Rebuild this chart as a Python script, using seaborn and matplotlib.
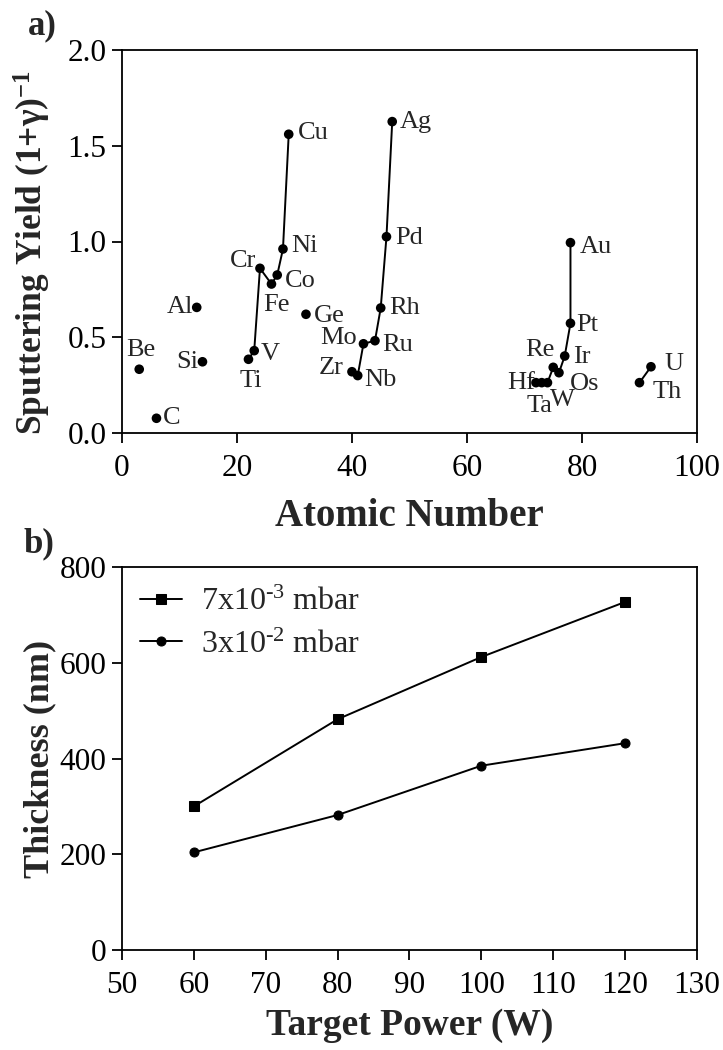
import matplotlib
matplotlib.use("Agg")
import matplotlib.pyplot as plt
import seaborn as sns
import pandas as pd

# ---- Panel a data ----
symbols = ["Be", "C", "Al", "Si", "Ti", "V", "Cr", "Fe", "Co", "Ni", "Cu", "Ge",
           "Zr", "Nb", "Mo", "Ru", "Rh", "Pd", "Ag",
           "Hf", "Ta", "W", "Re", "Os", "Ir", "Pt", "Au", "Th", "U"]
atomic_number = [3, 6, 13, 14, 22, 23, 24, 26, 27, 28, 29, 32,
                 40, 41, 42, 44, 45, 46, 47,
                 72, 73, 74, 75, 76, 77, 78, 78, 90, 92]
sputter_yield = [0.333, 0.077, 0.656, 0.372, 0.385, 0.43, 0.86, 0.778, 0.825, 0.961, 1.56, 0.62,
                 0.32, 0.30, 0.466, 0.482, 0.653, 1.025, 1.626,
                 0.263, 0.263, 0.263, 0.343, 0.315, 0.402, 0.573, 0.994, 0.263, 0.346]
period_group = ["", "", "", "", "3d", "3d", "3d", "3d", "3d", "3d", "3d", "",
                "4d", "4d", "4d", "4d", "4d", "4d", "4d",
                "5d", "5d", "5d", "5d", "5d", "5d", "5d", "5d", "act", "act"]

# label offsets in pixels (dx, dy, ha, va)
label_pos = {
    "Be": (2, 8, "center", "bottom"), "C": (6, 0, "left", "center"),
    "Al": (-4, 0, "right", "center"), "Si": (-4, 0, "right", "center"),
    "Ti": (2, -11, "center", "top"), "V": (6, -3, "left", "center"),
    "Cr": (-4, 7, "right", "center"), "Fe": (5, -10, "center", "top"),
    "Co": (8, -6, "left", "center"), "Ni": (8, 3, "left", "center"),
    "Cu": (9, 1, "left", "center"), "Ge": (8, -2, "left", "center"),
    "Zr": (-8, 4, "right", "center"), "Nb": (6, -4, "left", "center"),
    "Mo": (-7, 6, "right", "center"), "Ru": (7, -4, "left", "center"),
    "Rh": (8, 0, "left", "center"), "Pd": (9, -1, "left", "center"),
    "Ag": (8, 0, "left", "center"), "Hf": (-1, 0, "right", "center"),
    "Ta": (-2, -23, "center", "center"), "W": (15, -17, "center", "center"),
    "Re": (1, 17, "right", "center"), "Os": (11, -11, "left", "center"),
    "Ir": (8, -1, "left", "center"), "Pt": (6, -2, "left", "center"),
    "Au": (9, -4, "left", "center"), "Th": (13, -9, "left", "center"),
    "U": (13, 3, "left", "center"),
}

# ---- Panel b data ----
target_power = [60, 80, 100, 120]
thickness_7e3 = [300, 482, 612, 727]
thickness_3e2 = [204, 282, 385, 432]
legend_labels = [r"7x10$^{\text{-3}}$ mbar", r"3x10$^{\text{-2}}$ mbar"]

sns.set_style("ticks")
plt.rcParams["font.family"] = ["Liberation Serif", "DejaVu Serif"]
plt.rcParams["mathtext.fontset"] = "custom"
plt.rcParams["mathtext.rm"] = "Liberation Serif"
plt.rcParams["mathtext.it"] = "Liberation Serif:italic"
plt.rcParams["mathtext.bf"] = "Liberation Serif:bold"

fig = plt.figure(figsize=(7.23, 10.5), dpi=100)
ax1 = fig.add_axes([0.1687, 0.5876, 0.7953, 0.3648])
ax2 = fig.add_axes([0.1687, 0.0952, 0.7953, 0.3648])

df = pd.DataFrame({"sym": symbols, "z": atomic_number, "y": sputter_yield, "grp": period_group})
lines_df = df[df["grp"] != ""]
sns.lineplot(data=lines_df, x="z", y="y", units="grp", estimator=None, sort=False,
             color="black", lw=1.4, ax=ax1)
sns.scatterplot(data=df, x="z", y="y", color="black", s=48, edgecolor="none", ax=ax1, zorder=3)
for s, xv, yv in zip(symbols, atomic_number, sputter_yield):
    dx, dy, ha, va = label_pos[s]
    ax1.annotate(s, (xv, yv), xytext=(dx, dy), textcoords="offset pixels",
                 ha=ha, va=va, fontsize=19)

ax1.set_xlim(0, 100)
ax1.set_ylim(0, 2.0)
ax1.set_xticks([0, 20, 40, 60, 80, 100])
ax1.set_yticks([0.0, 0.5, 1.0, 1.5, 2.0])
ax1.set_yticklabels(["0.0", "0.5", "1.0", "1.5", "2.0"])
ax1.set_xlabel("Atomic Number", fontsize=28, fontweight="bold", labelpad=11)
ax1.set_ylabel(r"Sputtering Yield (1+γ)$^{\mathbf{-1}}$", fontsize=25.5, fontweight="bold")

dfb = pd.DataFrame({
    "power": target_power * 2,
    "thick": thickness_7e3 + thickness_3e2,
    "series": [legend_labels[0]] * 4 + [legend_labels[1]] * 4,
})
sns.lineplot(data=dfb, x="power", y="thick", hue="series", style="series",
             markers={legend_labels[0]: "s", legend_labels[1]: "o"}, dashes=False,
             palette=["black", "black"], markersize=6.5, markeredgecolor="black",
             lw=1.4, ax=ax2)
ax2.set_xlim(50, 130)
ax2.set_ylim(0, 800)
ax2.set_xticks(range(50, 131, 10))
ax2.set_yticks(range(0, 801, 200))
ax2.set_xlabel("Target Power (W)", fontsize=27, fontweight="bold", labelpad=6)
ax2.set_ylabel("Thickness (nm)", fontsize=26, fontweight="bold")
leg = ax2.legend(loc="upper left", frameon=False, fontsize=23, handlelength=1.3,
                 handletextpad=0.6, borderaxespad=0.0, labelspacing=0.42,
                 bbox_to_anchor=(0.01, 0.98))

for ax in (ax1, ax2):
    for sp in ax.spines.values():
        sp.set_visible(True)
        sp.set_linewidth(1.3)
        sp.set_color("black")
    ax.tick_params(direction="out", length=7, width=1.3, labelsize=22.5, colors="black", pad=4)
    ax.tick_params(axis="x", pad=8)
ax1.yaxis.set_label_coords(-0.12, 0.47)
ax2.yaxis.set_label_coords(-0.115, 0.5)

fig.text(0.038, 0.975, "a)", fontsize=25, fontweight="bold", ha="left", va="center")
fig.text(0.032, 0.482, "b)", fontsize=25, fontweight="bold", ha="left", va="center")

fig.savefig("out.png", dpi=100)
